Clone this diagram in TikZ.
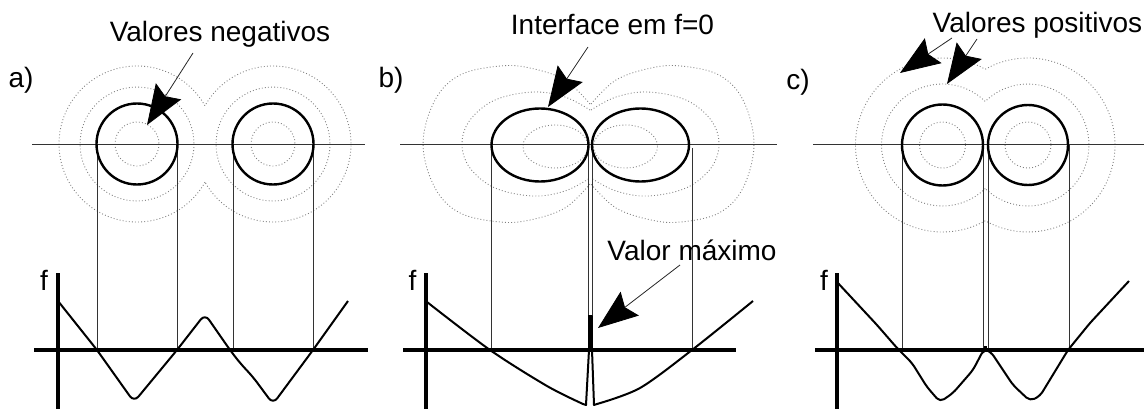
\documentclass[tikz,border=0pt]{standalone}
\usepackage{fontspec}
\setmainfont{Liberation Sans}
\usetikzlibrary{arrows.meta}
\newcommand\twoballs[4]{%
  \pgfmathsetmacro\tbHd{(#2-#1)/2}%
  \pgfmathsetmacro\tbAl{acos(\tbHd/#4)}%
  \draw[contour] ({#1+\tbHd},{#3+sqrt(#4*#4-\tbHd*\tbHd)})
    arc[start angle=\tbAl, end angle={360-\tbAl}, radius=#4]
    arc[start angle={180+\tbAl}, end angle={540-\tbAl}, radius=#4] -- cycle;}
\begin{document}
\begin{tikzpicture}[x=1pt,y=-1pt,
  lbl/.style={font=\fontsize{28}{34}\selectfont, inner sep=0pt, anchor=base},
  thinln/.style={line width=0.8pt, draw=black!80},
  axisln/.style={line width=3.5pt},
  shapeln/.style={line width=2.4pt},
  contour/.style={draw=black!50, line width=0.9pt, dash pattern=on 0.9pt off 2.2pt},
  curve/.style={line width=2pt, line join=round},
  pointer/.style={draw=black!85, line width=0.8pt, -{Stealth[length=40pt,width=30pt,inset=6pt,color=black]}},
]
\useasboundingbox (0,0) rectangle (1144,409);

% ---------- panel a ----------
\draw[contour] (137,144) circle[radius=22];
\draw[contour] (273,144) circle[radius=22];
\draw[contour] (137,144) circle[radius=57];
\draw[contour] (273,144) circle[radius=57];
\twoballs{137}{273}{144}{78}
\draw[thinln] (32,144) -- (365,144);
\foreach \xx in {97,177,233,313} \draw[thinln] (\xx,144) -- (\xx,350);
\draw[shapeln] (137,144) circle[radius=40.5];
\draw[shapeln] (273,144) circle[radius=40.5];
\draw[axisln] (34,350) -- (368,350);
\draw[axisln] (58,273) -- (58,409);
\draw[curve, rounded corners=7pt] (58,301) -- (97,350) -- (134,402) -- (177,350)
  -- (205,314) -- (230,350) -- (240,363) -- (253,377) -- (273,404)
  -- (313,350) -- (348,301);

% ---------- panel b ----------
\draw[contour] (555.5,146.5) ellipse[x radius=32.5, y radius=21.5];
\draw[contour] (625.5,146.5) ellipse[x radius=32, y radius=21.5];
\draw[contour] plot[smooth, tension=0.6] coordinates {(590,110) (565,97) (533,92) (495,100) (470,120) (462,144) (470,168) (495,188) (533,196) (565,191) (590,178)};
\draw[contour] plot[smooth, tension=0.6] coordinates {(591,110) (616,97) (648,92) (686,100) (711,120) (719,144) (711,168) (686,188) (648,196) (616,191) (591,178)};
\draw[contour] plot[smooth, tension=0.6] coordinates {(590,104) (565,80) (530,68) (500,66) (460,75) (435,100) (423,144) (435,188) (460,213) (500,222) (530,220) (565,208) (590,184)};
\draw[contour] plot[smooth, tension=0.6] coordinates {(591,104) (616,80) (651,68) (681,66) (719,75) (743,100) (754,144) (743,188) (719,213) (681,222) (651,220) (616,208) (591,184)};
\draw[thinln] (400,144) -- (777,144);
\draw[thinln] (491,144) -- (491,350);
\draw[thinln] (588.3,144) -- (588.3,316);
\draw[thinln] (592.3,144) -- (592.3,316);
\draw[thinln] (692,148) -- (692,350);
\draw[shapeln] (540,145) ellipse[x radius=48.5, y radius=36.5];
\draw[shapeln] (640.5,145) ellipse[x radius=48.5, y radius=36.5];
\draw[axisln] (403,350) -- (736,350);
\draw[axisln] (426,273) -- (426,409);
\fill (588.3,315) rectangle (592.3,350);
\draw[curve] plot[smooth, tension=0.5] coordinates {(427,302) (490,350) (547,386) (583,404)}
  -- (586,405) -- (589,350) -- (589.2,316) -- (591.8,316) -- (592,350) -- (594,405)
  -- plot[smooth, tension=0.5] coordinates {(597,404) (640,388) (692,350) (753,301)};

% ---------- panel c ----------
\draw[contour] (942.5,145) circle[radius=23];
\draw[contour] (1028,145) circle[radius=23];
\twoballs{942.5}{1028}{145}{61}
\twoballs{942.5}{1028}{145}{87}
\draw[thinln] (813,144) -- (1144,144);
\foreach \xx in {902,983,988,1069} \draw[thinln] (\xx,145) -- (\xx,350);
\draw[shapeln] (942.5,145) circle[radius=40.5];
\draw[shapeln] (1028,145) circle[radius=40];
\draw[axisln] (815,350) -- (1144,350);
\draw[axisln] (837,273) -- (837,409);
\draw[curve, rounded corners=5pt] (837,282) -- (877,325) -- (897,348) -- (912,363) -- (927,387)
  -- (940,402) -- (953,393) -- (973,370) -- (984,349) -- (991,352) -- (1013,385)
  -- (1030,401) -- (1040,396) -- (1068,350) -- (1090,323) -- (1129,281);
\fill (983.5,345.5) rectangle (987,349.5);

% ---------- labels ----------
\node[lbl] (la) at (21,88) {a)};
\node[lbl] (lb) at (391,88) {b)};
\node[lbl] (lc) at (798,90) {c)};
\node[lbl] (fa) at (44,290) {f};
\node[lbl] (fb) at (412.5,290) {f};
\node[lbl] (fc) at (824,290) {f};
\node[lbl] (tneg) at (220,42) {Valores negativos};
\node[lbl] (tint) at (612.5,35) {Interface em f=0};
\node[lbl] (tmax) at (692,260) {Valor máximo};
\node[lbl] (tpos) at (1037.5,33) {Valores positivos};

% ---------- arrows ----------
\coordinate (negS) at (193,53);  \coordinate (negT) at (147,125);
\coordinate (intS) at (588,47);  \coordinate (intT) at (548,107);
\coordinate (maxS) at (680,265); \coordinate (maxT) at (598,328);
\coordinate (posAS) at (952,38); \coordinate (posAT) at (900,73);
\coordinate (posBS) at (977,39); \coordinate (posBT) at (947,84);
\draw[pointer] (negS) -- (negT);
\draw[pointer] (intS) -- (intT);
\draw[pointer] (maxS) -- (maxT);
\draw[pointer] (posAS) -- (posAT);
\draw[pointer] (posBS) -- (posBT);
\end{tikzpicture}
\end{document}
